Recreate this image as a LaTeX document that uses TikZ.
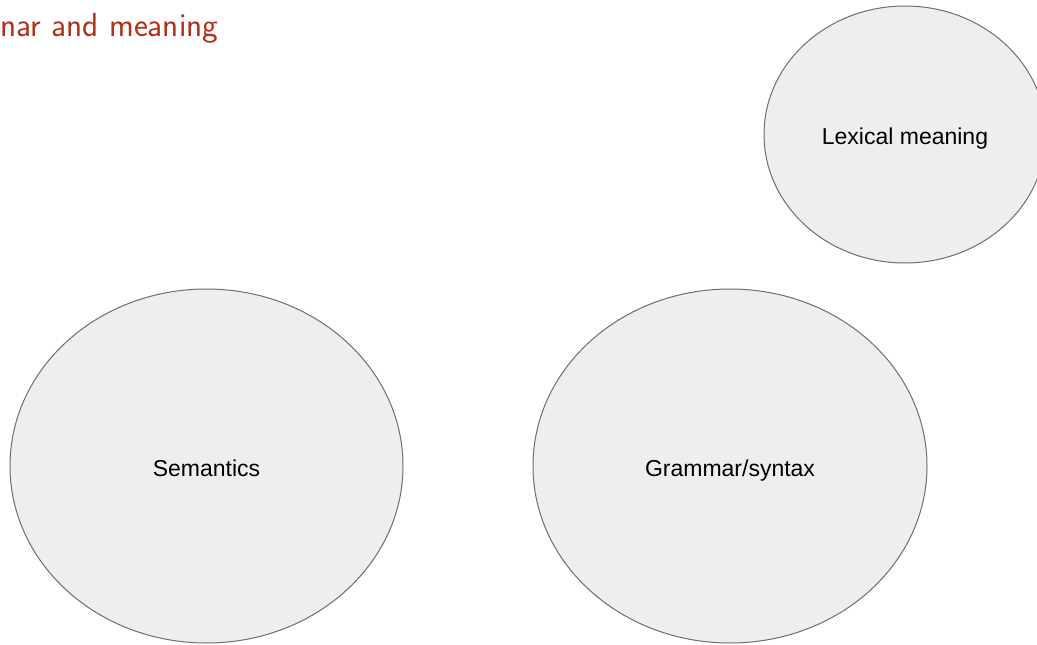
\documentclass[tikz,border=0pt]{standalone}
\usepackage{fontspec}
\newfontfamily\arialfont{Liberation Sans}
\usepackage{xcolor}
\usepackage{tikz}
\usetikzlibrary{shapes.geometric}
\definecolor{titlered}{RGB}{181,48,26}
\definecolor{bubblefill}{RGB}{238,238,238}
\definecolor{bubbleline}{RGB}{110,110,110}
\begin{document}
\begin{tikzpicture}[x=1pt,y=-1pt,
    bubble/.style={shape=ellipse, draw=bubbleline, fill=bubblefill, line width=1pt, inner sep=0pt,
        text height=21pt, text depth=1pt, font=\arialfont\fontsize{23}{27}\selectfont},
    heading/.style={anchor=base west, inner sep=0pt, text=titlered,
        font=\sffamily\fontsize{33.3}{40}\selectfont}]
    \useasboundingbox[fill=white] (0,0) rectangle (1037,645);

    \node[heading] (title) at (0,36) {nar and meaning};

    \node[bubble, minimum width=282pt, minimum height=257pt] (lexical) at (905,134.5) {Lexical meaning};
    \node[bubble, minimum width=393pt, minimum height=354pt] (semantics) at (206.5,466) {Semantics};
    \node[bubble, minimum width=394pt, minimum height=354pt] (grammar) at (730,466) {Grammar/syntax};
  \end{tikzpicture}
\end{document}
